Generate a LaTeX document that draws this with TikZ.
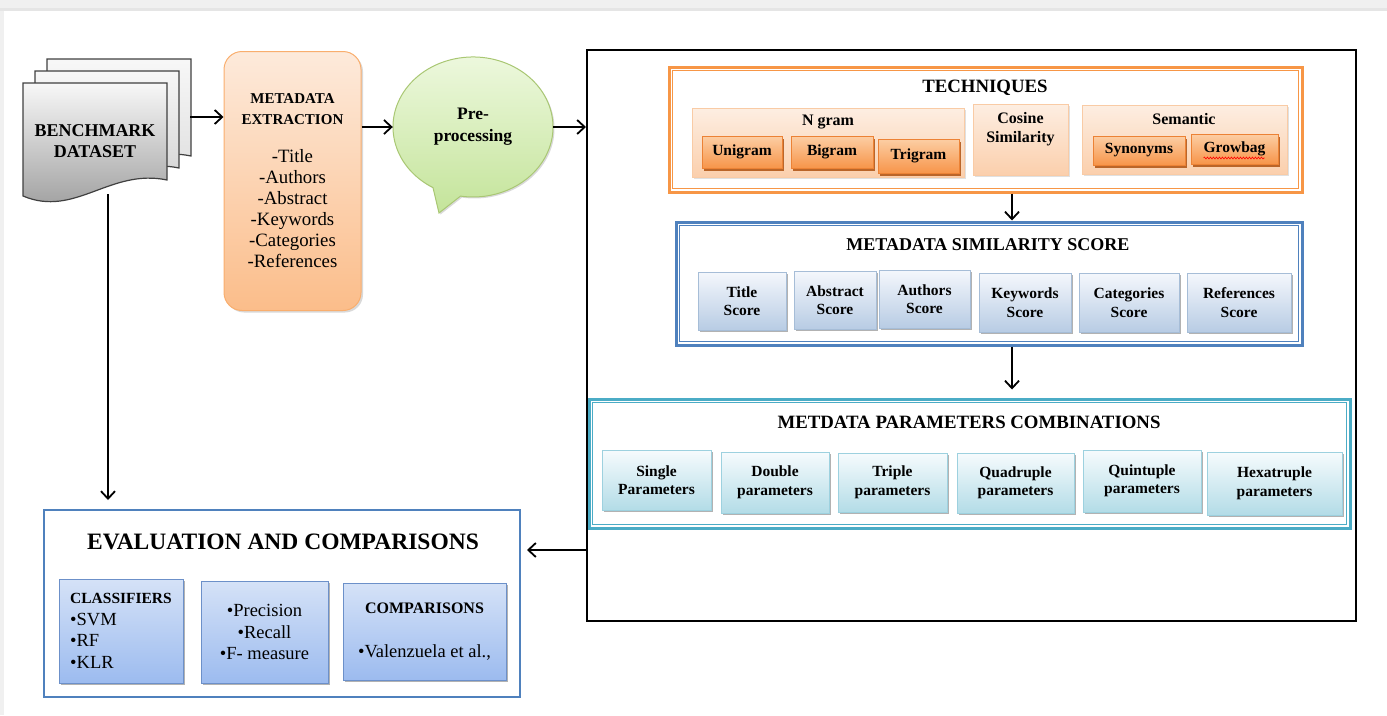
\documentclass[tikz,border=0pt]{standalone}
\usepackage{fontspec}
\setmainfont{Liberation Serif}
\usetikzlibrary{positioning,shadows,arrows.meta,calc,decorations.pathmorphing,shapes.geometric}

\definecolor{metaedge}{HTML}{F9AE6E}
\definecolor{metatop}{HTML}{FDEADB}
\definecolor{metabot}{HTML}{FBBD8A}
\definecolor{bubbleedge}{HTML}{A9C773}
\definecolor{bubbletop}{HTML}{EFF9E1}
\definecolor{bubblebot}{HTML}{C4E49A}
\definecolor{techline}{HTML}{F79646}
\definecolor{simline}{HTML}{4F81BD}
\definecolor{combline}{HTML}{4BACC6}
\definecolor{ngedge}{HTML}{F9CBA5}
\definecolor{ngtop}{HTML}{FDEEE2}
\definecolor{ngbot}{HTML}{FBCFAC}
\definecolor{gramedge}{HTML}{EC8235}
\definecolor{gramtop}{HTML}{FCCEA4}
\definecolor{grambot}{HTML}{F7954A}
\definecolor{gramshadow}{HTML}{B35A1B}
\definecolor{scoreedge}{HTML}{A6BDD7}
\definecolor{scoretop}{HTML}{F4F7FC}
\definecolor{scorebot}{HTML}{B8CCE4}
\definecolor{combedge}{HTML}{9DD1DF}
\definecolor{combtop}{HTML}{F6FBFD}
\definecolor{combbot}{HTML}{B3DCE7}
\definecolor{evaledge}{HTML}{6C90C9}
\definecolor{evaltop}{HTML}{D5E2F7}
\definecolor{evalbot}{HTML}{9CBBEF}

\begin{document}
\begin{tikzpicture}[x=1pt,y=-1pt,
    flow/.style={line width=1.8pt,-{Straight Barb[length=7.5pt,width=14pt]}},
    sheet/.style={draw=black!75,line width=1.2pt,top color=black!3},
    framebox/.style={fill=white,line width=3pt},
    hdrtext/.style={font=\bfseries\fontsize{18.8}{22}\selectfont},
    subtext/.style={font=\bfseries\fontsize{16}{19}\selectfont,align=center},
    lbltext/.style={font=\bfseries\fontsize{15.5}{18.5}\selectfont,align=center},
    metabox/.style={rounded corners=18pt,draw=metaedge,line width=1pt,top color=metatop,bottom color=metabot,
      drop shadow={shadow xshift=2pt,shadow yshift=-2pt,fill=black,opacity=.15}},
    bubbleshape/.style={draw=bubbleedge,line width=1pt,top color=bubbletop,bottom color=bubblebot,
      drop shadow={shadow xshift=1.5pt,shadow yshift=-1.5pt,fill=black,opacity=.15}},
    techbox/.style={draw=ngedge,line width=.8pt,top color=ngtop,bottom color=ngbot,
      drop shadow={shadow xshift=1.5pt,shadow yshift=-1.5pt,fill=black,opacity=.12}},
    grambox/.style={lbltext,draw=gramedge,line width=.8pt,top color=gramtop,bottom color=grambot,
      drop shadow={shadow xshift=1.5pt,shadow yshift=-2.5pt,fill=gramshadow,opacity=.9}},
    scorebox/.style={lbltext,draw=scoreedge,line width=1pt,top color=scoretop,bottom color=scorebot,
      drop shadow={shadow xshift=2pt,shadow yshift=-2pt,fill=black,opacity=.3}},
    combbox/.style={lbltext,draw=combedge,line width=1pt,top color=combtop,bottom color=combbot,
      drop shadow={shadow xshift=2pt,shadow yshift=-2pt,fill=black,opacity=.3}},
    evalbox/.style={draw=evaledge,line width=1pt,top color=evaltop,bottom color=evalbot,
      font=\fontsize{18.5}{21.5}\selectfont,drop shadow={shadow xshift=2pt,shadow yshift=-2pt,fill=black,opacity=.3}}]

  \useasboundingbox (0,0) rectangle (1387,715);
  \fill[black!6] (0,0) rectangle (1387,11);
  \fill[black!10] (0,8) rectangle (1387,11);
  \fill[black!6] (0,11) rectangle (4,715);

  % benchmark documents
  \foreach \s/\b in {24/black!14,12/black!20,0/black!40}
    \path[sheet,bottom color=\b,shift={(\s,-\s)}] (23,83) -- (167,83) -- (167,180)
      .. controls (110,168) and (75,218) .. (23,196) -- cycle;
  \node[font=\bfseries\fontsize{18}{21}\selectfont,align=center] (bench) at (95,141) {BENCHMARK\\DATASET};
  \coordinate (stackout) at (190,117);
  \coordinate (benchfoot) at (108,194);

  % metadata extraction
  \node[metabox,minimum width=137pt,minimum height=259pt,align=center,font=\fontsize{18.8}{21}\selectfont] (meta) at (292.5,181) {\textbf{\fontsize{15}{18}\selectfont METADATA}\\\textbf{\fontsize{15}{18}\selectfont EXTRACTION}\\[17pt]-Title\\-Authors\\-Abstract\\-Keywords\\-Categories\\-References};

  % pre-processing bubble
  \path[bubbleshape] (439,213) -- (433,187.6) arc[start angle=120,end angle=459,x radius=80,y radius=70] -- cycle;
  \node[ellipse,minimum width=160pt,minimum height=140pt,inner sep=0pt,align=center,
    font=\bfseries\fontsize{17.5}{22}\selectfont] (bubble) at (473,127) {Pre-\\processing};

  \node[draw,line width=2pt,minimum width=769pt,minimum height=571pt] (big) at (971.5,335.5) {};

  % techniques
  \node[framebox,draw=techline,minimum width=633pt,minimum height=125pt] (tech) at (985.5,129.5) {};
  \draw[techline,line width=1pt] ([shift={(5,5)}]tech.north west) rectangle ([shift={(-5,-5)}]tech.south east);
  \node[hdrtext] at (985,88) {TECHNIQUES};
  \node[techbox,minimum width=272pt,minimum height=69pt] (ngram) at (828,142.5) {};
  \node[subtext] at (828,122) {N gram};
  \node[grambox,minimum width=80pt,minimum height=32pt] (unigram) at (742,152) {Unigram};
  \node[grambox,minimum width=82pt,minimum height=32pt] (bigram) at (832,152) {Bigram};
  \node[grambox,minimum width=81pt,minimum height=34pt] (trigram) at (918.5,156) {Trigram};
  \node[techbox,minimum width=95pt,minimum height=71pt] (cosine) at (1020.5,139.5) {};
  \node[subtext] at (1020.5,129) {Cosine\\Similarity};
  \node[techbox,minimum width=205pt,minimum height=69pt] (semantic) at (1184.5,139.5) {};
  \node[subtext] at (1184,119) {Semantic};
  \node[grambox,minimum width=92pt,minimum height=29pt] (synonyms) at (1139,150.5) {Synonyms};
  \node[grambox,minimum width=87pt,minimum height=30pt] (growbag) at (1234.5,149) {Growbag};
  \draw[red,line width=.6pt,decorate,decoration={snake,amplitude=.9pt,segment length=3pt}]
    ($(growbag.center)+(-31,9)$) -- ($(growbag.center)+(30,9)$);

  % metadata similarity score
  \node[framebox,draw=simline,minimum width=626pt,minimum height=123pt] (sim) at (989,283.5) {};
  \draw[simline,line width=1pt] ([shift={(5,5)}]sim.north west) rectangle ([shift={(-5,-5)}]sim.south east);
  \node[hdrtext,font=\bfseries\fontsize{18}{21}\selectfont] at (988,245) {METADATA SIMILARITY SCORE};
  \begin{scope}[every node/.style={scorebox}]
    \node[minimum width=88pt,minimum height=58pt] (stitle) at (742,301) {Title\\Score};
    \node[minimum width=82pt,minimum height=58pt] (sabstract) at (835,300) {Abstract\\Score};
    \node[minimum width=91pt,minimum height=58pt] (sauthors) at (924.5,299) {Authors\\Score};
    \node[minimum width=92pt,minimum height=59pt] (skeywords) at (1025,302.5) {Keywords\\Score};
    \node[minimum width=100pt,minimum height=59pt] (scategories) at (1129,302.5) {Categories\\Score};
    \node[minimum width=104pt,minimum height=59pt] (sreferences) at (1239,302.5) {References\\Score};
  \end{scope}

  % parameter combinations
  \node[framebox,draw=combline,minimum width=761pt,minimum height=129pt] (combo) at (969.5,463.5) {};
  \draw[combline,line width=1pt] ([shift={(5,5)}]combo.north west) rectangle ([shift={(-5,-5)}]combo.south east);
  \node[hdrtext] at (969,422) {METDATA PARAMETERS COMBINATIONS};
  \begin{scope}[every node/.style={combbox}]
    \node[minimum width=109pt,minimum height=60pt] (single) at (656.5,480) {Single\\Parameters};
    \node[minimum width=108pt,minimum height=61pt] (double) at (775,482.5) {Double\\parameters};
    \node[minimum width=109pt,minimum height=59pt] (triple) at (892.5,482.5) {Triple\\parameters};
    \node[minimum width=117pt,minimum height=60pt] (quadruple) at (1015.5,483) {Quadruple\\parameters};
    \node[minimum width=118pt,minimum height=62pt] (quintuple) at (1142,481) {Quintuple\\parameters};
    \node[minimum width=135pt,minimum height=63pt] (hexatruple) at (1274.5,483.5) {Hexatruple\\parameters};
  \end{scope}

  % evaluation
  \node[draw=simline,line width=2pt,fill=white,minimum width=476pt,minimum height=187pt] (eval) at (282,603.5) {};
  \node[font=\bfseries\fontsize{23.5}{27}\selectfont] at (283,542) {EVALUATION AND COMPARISONS};
  \begin{scope}[every node/.style={evalbox}]
    \node[minimum width=124pt,minimum height=104pt,align=left] (classifiers) at (121,631) {\textbf{\fontsize{15.5}{18}\selectfont CLASSIFIERS}\\\textbullet SVM\\\textbullet RF\\\textbullet KLR};
    \node[minimum width=127pt,minimum height=102pt,align=center] (measures) at (264.5,632) {\textbullet Precision\\\textbullet Recall\\\textbullet F- measure};
    \node[minimum width=163pt,minimum height=97pt,align=center] (comparisons) at (424.5,631.5) {\textbf{\fontsize{16}{18}\selectfont COMPARISONS}\\[22pt]\textbullet Valenzuela et al.,};
  \end{scope}

  % connectors
  \coordinate (spine) at (1012,0);
  \coordinate (backlink) at (0,550);
  \draw[flow] (stackout) -- (stackout -| meta.west);
  \draw[flow] (meta.east |- bubble.west) -- (bubble.west);
  \draw[flow] (bubble.east) -- (bubble.east -| big.west);
  \draw[flow] (tech.south -| spine) -- (sim.north -| spine);
  \draw[flow,shorten >=8pt] (sim.south -| spine) -- (combo.north -| spine);
  \draw[flow,shorten >=6pt] (big.west |- backlink) -- (eval.east |- backlink);
  \draw[flow,shorten >=9pt] (benchfoot) -- (benchfoot |- eval.north);

\end{tikzpicture}
\end{document}
